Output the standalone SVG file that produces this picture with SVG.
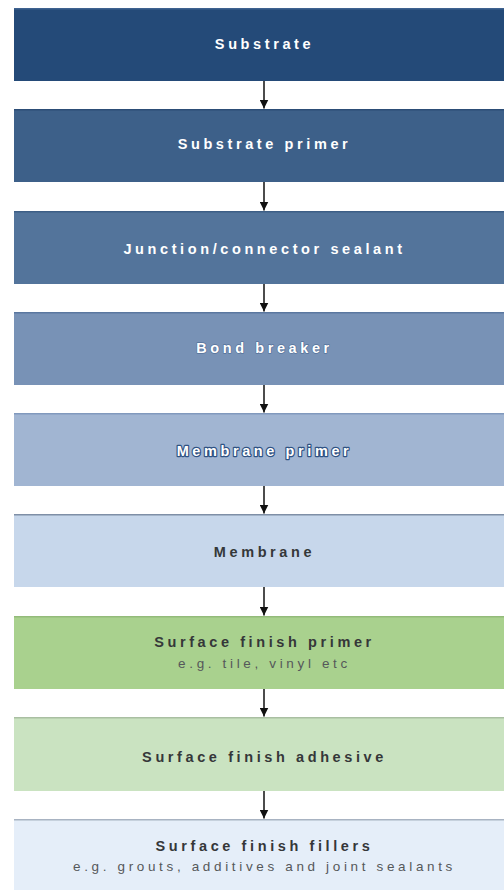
<svg xmlns="http://www.w3.org/2000/svg" width="504" height="890" viewBox="0 0 504 890">
<style>
.t{font-family:"Liberation Sans",Arial,sans-serif;font-size:14.5px;font-weight:bold;letter-spacing:3.6px;text-anchor:middle}
.s{font-family:"Liberation Sans",Arial,sans-serif;font-size:13.5px;letter-spacing:3.65px;text-anchor:middle}
.w{fill:#ffffff}
.o{fill:#ffffff;stroke:#2f5283;stroke-width:2.4px;paint-order:stroke;stroke-linejoin:round}
.d{fill:#353739}
.g{fill:#55585a}
.c{stroke:#111;stroke-width:1.5;fill:none}
</style>
<defs>
<marker id="ah" markerWidth="10" markerHeight="9" refX="9" refY="4.5" orient="auto" markerUnits="userSpaceOnUse">
<path d="M0,0 L9,4.5 L0,9 z" fill="#111"/>
</marker>
</defs>
<rect width="504" height="890" fill="#ffffff"/>
<g id="n1"><rect x="14" y="8" width="490" height="73" fill="#244a78"/><rect x="14" y="8" width="490" height="1.5" fill="#3f6290"/><text class="t w" x="264.5" y="48.5">Substrate</text></g>
<g id="n2"><rect x="14" y="109" width="490" height="73" fill="#3d6089"/><rect x="14" y="109" width="490" height="1.5" fill="#2c4d76"/><text class="t w" x="264.5" y="148.5">Substrate primer</text></g>
<g id="n3"><rect x="14" y="211" width="490" height="73" fill="#53749b"/><rect x="14" y="211" width="490" height="1.5" fill="#3d5e86"/><text class="t w" x="264.5" y="253.5">Junction/connector sealant</text></g>
<g id="n4"><rect x="14" y="312" width="490" height="73" fill="#7892b6"/><rect x="14" y="312" width="490" height="1.5" fill="#5a779f"/><text class="t o" style="stroke-width:1.4px;stroke:#56739b" x="264.5" y="353">Bond breaker</text></g>
<g id="n5"><rect x="14" y="413" width="490" height="73" fill="#a1b5d2"/><rect x="14" y="413" width="490" height="1.5" fill="#8199bd"/><text class="t o" x="264.5" y="455.5">Membrane primer</text></g>
<g id="n6"><rect x="14" y="514" width="490" height="73" fill="#c7d7eb"/><rect x="14" y="514" width="490" height="1.5" fill="#7f8fa6"/><text class="t d" x="264.5" y="557">Membrane</text></g>
<g id="n7"><rect x="14" y="616" width="490" height="73" fill="#a9d18e"/><rect x="14" y="616" width="490" height="1.5" fill="#93bb7a"/><text class="t d" x="264.5" y="646.5">Surface finish primer</text><text class="s g" x="264.5" y="668">e.g. tile, vinyl etc</text></g>
<g id="n8"><rect x="14" y="717" width="490" height="74" fill="#cae3c1"/><rect x="14" y="717" width="490" height="1.5" fill="#a9bfa2"/><text class="t d" x="264.5" y="762">Surface finish adhesive</text></g>
<g id="n9"><rect x="14" y="819" width="490" height="71" fill="#e5eef9"/><rect x="14" y="819" width="490" height="1.5" fill="#a8b3c2"/><text class="t d" x="264.5" y="851">Surface finish fillers</text><text class="s g" x="264.5" y="871">e.g. grouts, additives and joint sealants</text></g>
<g id="connectors">
<line class="c" x1="264" y1="81" x2="264" y2="108.5" marker-end="url(#ah)"/>
<line class="c" x1="264" y1="182" x2="264" y2="210.5" marker-end="url(#ah)"/>
<line class="c" x1="264" y1="284" x2="264" y2="311.5" marker-end="url(#ah)"/>
<line class="c" x1="264" y1="385" x2="264" y2="412.5" marker-end="url(#ah)"/>
<line class="c" x1="264" y1="486" x2="264" y2="513.5" marker-end="url(#ah)"/>
<line class="c" x1="264" y1="587" x2="264" y2="615.5" marker-end="url(#ah)"/>
<line class="c" x1="264" y1="689" x2="264" y2="716.5" marker-end="url(#ah)"/>
<line class="c" x1="264" y1="791" x2="264" y2="818.5" marker-end="url(#ah)"/>
</g>
</svg>
